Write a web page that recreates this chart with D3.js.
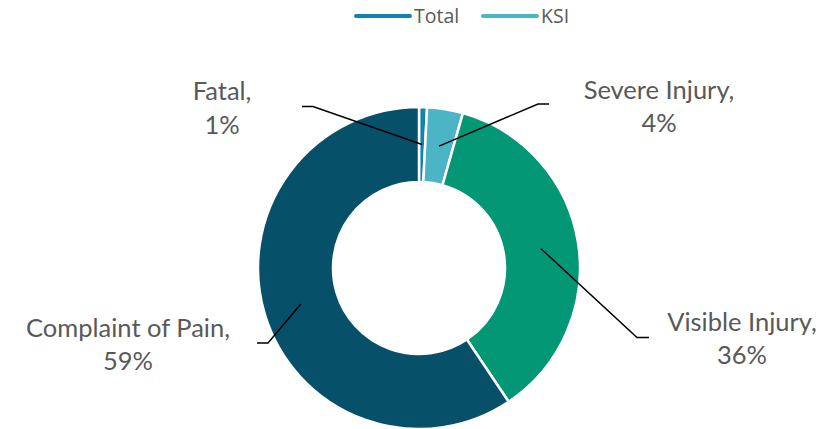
<!DOCTYPE html>
<html>
<head>
<meta charset="utf-8">
<script src="https://cdn.jsdelivr.net/npm/d3@7"></script>
<style>
  html, body { margin: 0; padding: 0; background: #fff; }
  svg { display: block; }
</style>
</head>
<body>
<svg id="chart" width="833" height="429"></svg>
<script>
// ---- data ----
const categories = ["Fatal", "Severe Injury", "Visible Injury", "Complaint of Pain"];
const shares = [0.8, 3.6, 36.2, 59.4];
const pctLabels = ["1%", "4%", "36%", "59%"];
const sliceColors = ["#1283ae", "#4cb5c5", "#049775", "#07506a"];
const legendNames = ["Total", "KSI"];
const legendColors = ["#1283ae", "#4cb5c5"];

// ---- layout (positions of labels / elbows) ----
const W = 833, H = 429;
const cx = 419, cy = 268, rOuter = 161, rInner = 86;
const labelLayout = [
  { x: 222, y: 100, elbowX: 313, elbowY: 106.5, endX: 302 },
  { x: 659, y: 98.5, elbowX: 538, elbowY: 104, endX: 549 },
  { x: 742, y: 330.5, elbowX: 637, elbowY: 337.5, endX: 649 },
  { x: 128, y: 336.5, elbowX: 268, elbowY: 343, endX: 257 }
];

const svg = d3.select("#chart");

const data = categories.map((c, i) => ({ name: c, value: shares[i], pct: pctLabels[i], color: sliceColors[i], lay: labelLayout[i] }));

const pie = d3.pie().value(d => d.value).sort(null);
const arc = d3.arc().innerRadius(rInner).outerRadius(rOuter);
const midArc = d3.arc().innerRadius((rInner + rOuter) / 2).outerRadius((rInner + rOuter) / 2);

const arcs = pie(data);
const g = svg.append("g").attr("transform", `translate(${cx},${cy})`);

g.selectAll("path.slice").data(arcs).enter().append("path")
  .attr("class", "slice")
  .attr("d", arc)
  .attr("fill", d => d.data.color)
  .attr("stroke", "#ffffff")
  .attr("stroke-width", 2.5)
  .attr("stroke-linejoin", "miter");

// leader lines
svg.selectAll("polyline.leader").data(arcs).enter().append("polyline")
  .attr("class", "leader")
  .attr("fill", "none")
  .attr("stroke", "#000")
  .attr("stroke-width", 1.5)
  .attr("points", d => {
    const c = midArc.centroid(d);
    const L = d.data.lay;
    return [[cx + c[0], cy + c[1]], [L.elbowX, L.elbowY], [L.endX, L.elbowY]].map(p => p.join(",")).join(" ");
  });

// labels
const lab = svg.selectAll("text.lab").data(arcs).enter().append("text")
  .attr("class", "lab")
  .attr("text-anchor", "middle")
  .attr("font-family", "Lato, 'Open Sans', sans-serif")
  .attr("font-size", 25.5)
  .attr("fill", "#595959");
lab.append("tspan").attr("x", d => d.data.lay.x).attr("y", d => d.data.lay.y).text(d => d.data.name + ",");
lab.append("tspan").attr("x", d => d.data.lay.x).attr("y", d => d.data.lay.y + 33.5).text(d => d.data.pct);

// legend
const legendX = [356, 483];
const leg = svg.selectAll("g.leg").data(legendNames).enter().append("g").attr("class", "leg")
  .attr("transform", (d, i) => `translate(${legendX[i]},16)`);
leg.append("line").attr("x1", 0).attr("x2", 54).attr("y1", 0).attr("y2", 0)
  .attr("stroke", (d, i) => legendColors[i]).attr("stroke-width", 4).attr("stroke-linecap", "round");
leg.append("text").attr("x", 58).attr("y", 7)
  .attr("font-family", "'Open Sans', sans-serif").attr("font-size", 19.5).attr("fill", "#595959")
  .text(d => d);
</script>
</body>
</html>
